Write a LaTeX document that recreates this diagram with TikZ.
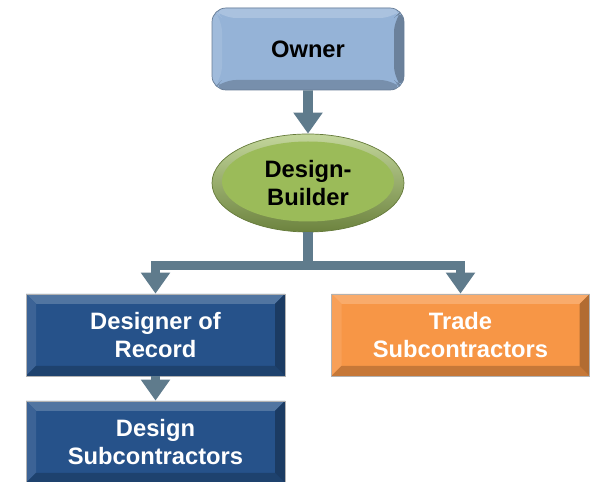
\documentclass[tikz,border=0pt]{standalone}
\usepackage{fontspec}
\setmainfont{Liberation Sans}
\usetikzlibrary{trees,arrows.meta,shapes.geometric}

\definecolor{ownerblue}{HTML}{95B3D7}
\definecolor{recordblue}{HTML}{26528A}
\definecolor{tradeorange}{HTML}{F79646}
\definecolor{buildgreen}{HTML}{9BBB59}
\definecolor{flowgrey}{HTML}{5F7B8C}

\begin{document}
\begin{tikzpicture}[
  level 1/.style={level distance=2.68cm},
  level 2/.style={level distance=3.04cm, sibling distance=6.1cm,
    edge from parent path={(\tikzparentnode.south) -- +(0,-0.66) -| (\tikzchildnode.north)}},
  level 3/.style={level distance=2.14cm,
    edge from parent path={(\tikzparentnode.south) -- (\tikzchildnode.north)}},
  edge from parent/.style={draw=flowgrey, line width=5.5pt, -{Triangle[width=16pt,length=12pt]}},
  every node/.style={font=\bfseries\fontsize{13.5}{16}\selectfont, align=center, inner sep=0pt},
  % flat box with a bevelled rim
  bevel/.style={fill=#1, draw=gray!60, line width=0.4pt, path picture={
    \fill[#1!80!white] (path picture bounding box.north west) -- (path picture bounding box.north east)
      -- ([shift={(-0.2,-0.2)}]path picture bounding box.north east) -- ([shift={(0.2,-0.2)}]path picture bounding box.north west) -- cycle;
    \fill[#1!90!white] (path picture bounding box.north west) -- (path picture bounding box.south west)
      -- ([shift={(0.2,0.2)}]path picture bounding box.south west) -- ([shift={(0.2,-0.2)}]path picture bounding box.north west) -- cycle;
    \fill[#1!80!black] (path picture bounding box.south west) -- (path picture bounding box.south east)
      -- ([shift={(-0.2,0.2)}]path picture bounding box.south east) -- ([shift={(0.2,0.2)}]path picture bounding box.south west) -- cycle;
    \fill[#1!72!black] (path picture bounding box.north east) -- (path picture bounding box.south east)
      -- ([shift={(-0.2,0.2)}]path picture bounding box.south east) -- ([shift={(-0.2,-0.2)}]path picture bounding box.north east) -- cycle;
  }},
  owner/.style={rectangle, rounded corners=8pt, bevel=ownerblue, draw=ownerblue!70!black,
    minimum width=3.84cm, minimum height=1.64cm, text=black},
  builder/.style={ellipse, minimum width=3.84cm, minimum height=1.96cm, draw=buildgreen!65!black,
    top color=buildgreen!60!white, bottom color=buildgreen!70!black, text=black,
    path picture={\fill[buildgreen] ([yshift=0.03cm]path picture bounding box.center) ellipse (1.72cm and 0.8cm);}},
  record/.style={rectangle, bevel=recordblue, minimum width=5.18cm, minimum height=1.64cm, text=white},
  trade/.style={rectangle, bevel=tradeorange, minimum width=5.16cm, minimum height=1.64cm, text=white}]
  \useasboundingbox (0,0) rectangle (11.8,9.64);
  \node[owner] (own) at (6.16,8.66) {Owner}
    child {node[builder] (db) {Design-\\Builder}
      child {node[record] (dor) {Designer of\\Record}
        child {node[record] (dsub) {Design\\Subcontractors}}
      }
      child {node[trade] (tsub) {Trade\\Subcontractors}}
    };
\end{tikzpicture}
\end{document}
